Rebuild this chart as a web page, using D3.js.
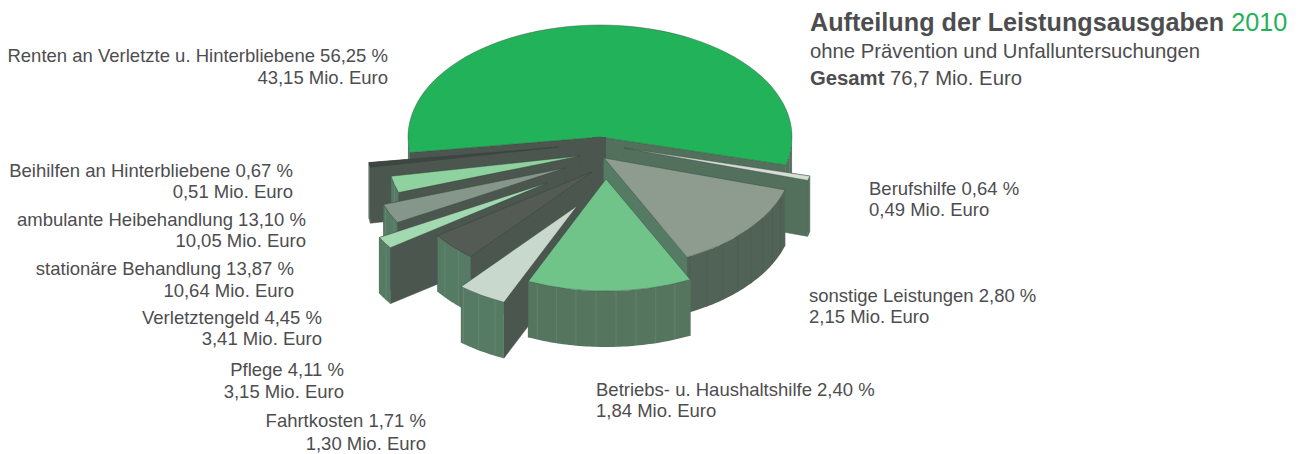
<!DOCTYPE html>
<html>
<head>
<meta charset="utf-8">
<script src="https://cdn.jsdelivr.net/npm/d3@7"></script>
<style>
  body { margin: 0; background: #fff; }
  text { font-family: "Liberation Sans", Arial, sans-serif; fill: #4d4d4f; }
</style>
</head>
<body>
<div id="vis-container"></div>
<script>
// Data, in pie order (clockwise from the left end of the big slice)
const categories = ["Renten an Verletzte u. Hinterbliebene", "Berufshilfe", "ambulante Heibehandlung",
  "stationäre Behandlung", "Verletztengeld", "Pflege", "Fahrtkosten", "sonstige Leistungen",
  "Betriebs- u. Haushaltshilfe", "Beihilfen an Hinterbliebene"];
const shares = [56.25, 0.64, 13.10, 13.87, 4.45, 4.11, 1.71, 2.80, 2.40, 0.67];
const amounts = [43.15, 0.49, 10.05, 10.64, 3.41, 3.15, 1.30, 2.15, 1.84, 0.51];

// Slice look
const topColors = ["#22b25a", "#d5dfd6", "#8e9c90", "#70c489", "#c8d8cd", "#545a54", "#a3d9b0", "#85968a", "#8ed29f", "#3f4642"];
const wallColors = ["#52705c", "#52705c", "#516356", "#55755f", "#557b64", "#557b64", "#557b64", "#557b64", "#557b64", "#4f6354"];
const pull = [[0, 0], [24, 11], [4, 21], [6, 42], [-23, 69], [-8, 35], [-53, 46], [-35, 31], [-20, 19], [-41, 10]];
const reach = [1, 1, 0.985, 1, 0.94, 0.985, 1, 1, 1, 1];
const paintOrder = [0, 1, 9, 8, 7, 6, 5, 4, 2, 3];

// Label layout, same order as categories: x, anchor, y of the two lines
const labelPos = [[388, "end", 62, 84], [869, "start", 195, 216], [306, "end", 226, 247],
  [294, "end", 275, 297], [322, "end", 324, 345], [344, "end", 376, 398], [426, "end", 427, 450],
  [809, "start", 302, 323], [596, "start", 396, 417], [293, "end", 177, 198]];

const width = 1299;
const height = 454;
const cx = 600, cy = 137, rx = 192, tilt = 112 / 192, depth = 56;
const deg = Math.PI / 180;

const svg = d3.select("#vis-container")
  .append("svg")
  .attr("width", width)
  .attr("height", height)
  .attr("viewBox", [0, 0, width, height])
  .style("display", "block");

const pie = d3.pie().sort(null).startAngle(-98 * deg).endAngle(262 * deg);
const arcs = pie(shares);
const line = d3.line();

// Point on the rim of a slice; angle 0 is 12 o'clock, clockwise
function rim(i, a, down) {
  const r = rx * reach[i];
  return [cx + pull[i][0] + r * Math.sin(a), cy + pull[i][1] - r * tilt * Math.cos(a) + down];
}

// Parts of the rim that face the viewer (90 to 270 degrees)
function frontRanges(a0, a1) {
  const out = [];
  [0, 2 * Math.PI].forEach((shift) => {
    const from = Math.max(a0 + shift, 90 * deg);
    const to = Math.min(a1 + shift, 270 * deg);
    if (from < to) out.push([from, to]);
  });
  return out;
}

paintOrder.forEach((i) => {
  const d = arcs[i];
  const ax = cx + pull[i][0], ay = cy + pull[i][1];
  const g = svg.append("g");

  // Radial walls, back one first
  const ends = [d.startAngle, d.endAngle].sort((p, q) => rim(i, p, 0)[1] - rim(i, q, 0)[1]);
  ends.forEach((a) => {
    const t = rim(i, a, 0), b = rim(i, a, depth);
    // walls facing lower right are the dark ones, lower left the green ones
    const sideColor = Math.sin(a) < 0 ? "#4b574e" : (i < 2 ? "#52705c" : "#557b64");
    g.append("path")
      .attr("d", line([[ax, ay], t, b, [ax, ay + depth]]) + "Z")
      .attr("fill", sideColor)
      .attr("stroke", sideColor)
      .attr("stroke-width", 0.5);
  });

  // Outer wall with its facet lines
  frontRanges(d.startAngle, d.endAngle).forEach(([from, to]) => {
    const steps = d3.range(from, to, 1 * deg).concat([to]);
    const upper = steps.map((a) => rim(i, a, 0));
    const lower = steps.slice().reverse().map((a) => rim(i, a, depth));
    g.append("path")
      .attr("d", line(upper.concat(lower)) + "Z")
      .attr("fill", wallColors[i]);

    d3.range(183, 270, 6).concat(d3.range(177, 90, -6)).forEach((f) => {
      if (f * deg <= from || f * deg >= to) return;
      g.append("path")
        .attr("d", line([rim(i, f * deg, 0), rim(i, f * deg, depth)]))
        .attr("stroke", i === 2 ? "#465549" : "#7d9c88")
        .attr("stroke-width", 0.5)
        .attr("stroke-opacity", 0.7);
    });
  });

  // Top face: d3.arc in a squashed group
  g.append("path")
    .attr("transform", `translate(${ax},${ay}) scale(1,${tilt})`)
    .attr("d", d3.arc().innerRadius(0).outerRadius(rx * reach[i])(d))
    .attr("fill", topColors[i])
    .attr("stroke", "#36423a")
    .attr("stroke-width", 0.4)
    .attr("vector-effect", "non-scaling-stroke");

  // Dark core behind the pulled-out slices, closes the gap near the centre
  if (i === 0) {
    svg.append("path")
      .attr("d", line([[cx - 8, cy], [cx + 6, cy], [cx + 6, cy + depth + 14], [cx - 8, cy + depth + 14]]) + "Z")
      .attr("fill", "#4b574e");
  }
});

// Labels
const num = d3.formatLocale({ decimal: ",", thousands: ".", grouping: [3], currency: ["", " €"] }).format(".2f");
const labels = svg.append("g").attr("font-size", 18.5);
categories.forEach((c, i) => {
  const p = labelPos[i];
  labels.append("text").attr("x", p[0]).attr("y", p[2]).attr("text-anchor", p[1])
    .text(`${c} ${num(shares[i])} %`);
  labels.append("text").attr("x", p[0]).attr("y", p[3]).attr("text-anchor", p[1])
    .text(`${num(amounts[i])} Mio. Euro`);
});

// Title block
const title = svg.append("text").attr("x", 810).attr("y", 31).attr("font-size", 25.2);
title.append("tspan").attr("font-weight", "bold").text("Aufteilung der Leistungsausgaben ");
title.append("tspan").style("fill", "#22b25a").text("2010");
svg.append("text").attr("x", 810).attr("y", 58).attr("font-size", 20.3).text("ohne Prävention und Unfalluntersuchungen");
const total = svg.append("text").attr("x", 810).attr("y", 85).attr("font-size", 20.3);
total.append("tspan").attr("font-weight", "bold").text("Gesamt");
total.append("tspan").text(" 76,7 Mio. Euro");
</script>
</body>
</html>
